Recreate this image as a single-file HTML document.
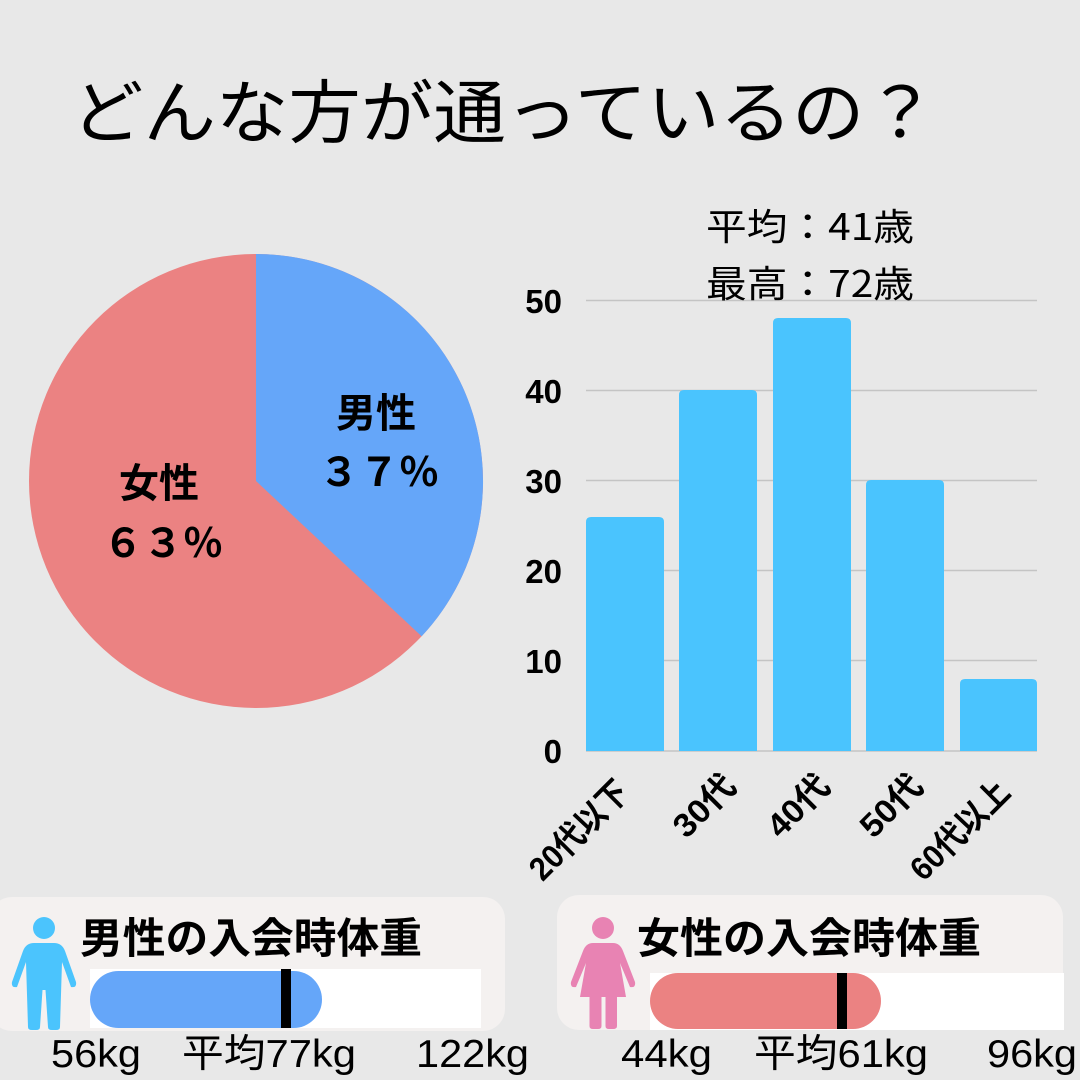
<!DOCTYPE html>
<html><head><meta charset="utf-8">
<style>
html,body{margin:0;padding:0;background:#e8e8e8;}
svg{display:block;}
text{font-family:"Liberation Sans","Noto Sans CJK JP",sans-serif;}
.jp{font-family:"Noto Sans CJK JP","Liberation Sans",sans-serif;}
</style></head>
<body>
<svg width="1080" height="1080" viewBox="0 0 1080 1080" xmlns="http://www.w3.org/2000/svg">
<rect width="1080" height="1080" fill="#e8e8e8"/>

<!-- Title -->
<text class="jp" x="71" y="137" font-size="69" fill="#000" textLength="866" lengthAdjust="spacingAndGlyphs">どんな方が通っているの？</text>

<!-- Pie -->
<circle cx="256" cy="481" r="227" fill="#eb8282"/>
<path d="M256 481 L256 254 A227 227 0 0 1 421.6 636.3 Z" fill="#65a6f9"/>
<text class="jp" x="376" y="427" font-size="40" font-weight="bold" text-anchor="middle" fill="#000">男性</text>
<text class="jp" x="379" y="486" font-size="40" font-weight="bold" text-anchor="middle" fill="#000">３７％</text>
<text class="jp" x="159" y="497" font-size="40" font-weight="bold" text-anchor="middle" fill="#000">女性</text>
<text class="jp" x="163" y="557" font-size="40" font-weight="bold" text-anchor="middle" fill="#000">６３％</text>

<!-- Bar chart gridlines -->
<g stroke="#c4c4c4" stroke-width="1.5">
<line x1="586" y1="300.5" x2="1037" y2="300.5"/>
<line x1="586" y1="390.5" x2="1037" y2="390.5"/>
<line x1="586" y1="480.5" x2="1037" y2="480.5"/>
<line x1="586" y1="570.5" x2="1037" y2="570.5"/>
<line x1="586" y1="660.5" x2="1037" y2="660.5"/>
<line x1="586" y1="751" x2="1037" y2="751"/>
</g>
<g class="jp" font-size="33" font-weight="bold" text-anchor="end" fill="#000">
<text x="562" y="313">50</text>
<text x="562" y="403">40</text>
<text x="562" y="493">30</text>
<text x="562" y="583">20</text>
<text x="562" y="673">10</text>
<text x="562" y="763">0</text>
</g>
<!-- Bars -->
<g fill="#4ac4fe">
<path d="M586 751 V522 Q586 517 591 517 H659 Q664 517 664 522 V751 Z"/>
<path d="M679 751 V395 Q679 390 684 390 H752 Q757 390 757 395 V751 Z"/>
<path d="M773 751 V323 Q773 318 778 318 H846 Q851 318 851 323 V751 Z"/>
<path d="M866 751 V485 Q866 480 871 480 H939 Q944 480 944 485 V751 Z"/>
<path d="M960 751 V684 Q960 679 965 679 H1032 Q1037 679 1037 684 V751 Z"/>
</g>
<!-- x labels -->
<g class="jp" font-size="33" font-weight="bold" text-anchor="end" fill="#000">
<text transform="translate(631,794) rotate(-45)" textLength="125" lengthAdjust="spacingAndGlyphs">20代以下</text>
<text transform="translate(738,788) rotate(-45)" textLength="73" lengthAdjust="spacingAndGlyphs">30代</text>
<text transform="translate(832,788) rotate(-45)" textLength="73" lengthAdjust="spacingAndGlyphs">40代</text>
<text transform="translate(925,788) rotate(-45)" textLength="73" lengthAdjust="spacingAndGlyphs">50代</text>
<text transform="translate(1012,794) rotate(-45)" textLength="125" lengthAdjust="spacingAndGlyphs">60代以上</text>
</g>
<!-- stats -->
<text class="jp" x="706" y="240" font-size="37" fill="#000" textLength="208" lengthAdjust="spacingAndGlyphs">平均：41歳</text>
<text class="jp" x="706" y="297" font-size="37" fill="#000" textLength="208" lengthAdjust="spacingAndGlyphs">最高：72歳</text>

<!-- Left panel -->
<rect x="-10" y="897" width="515" height="134" rx="22" fill="#f4f1f0"/>
<circle cx="44" cy="928" r="11" fill="#4bc4fd"/>
<path d="M34 943 L54 943 Q62 943 65 951 L76 982 Q77 988 71 987 L62 962 L60 1027 Q60 1030 56 1030 L52 1030 Q48 1030 48 1027 L45.5 990 L42.5 990 L40 1027 Q40 1030 36 1030 L32 1030 Q28 1030 28 1027 L26 962 L17 987 Q11 988 12 982 L23 951 Q26 943 34 943 Z" fill="#4bc4fd"/>
<text class="jp" x="80" y="953" font-size="42" font-weight="bold" fill="#000" textLength="342" lengthAdjust="spacingAndGlyphs">男性の入会時体重</text>
<rect x="90" y="969" width="391" height="59" fill="#ffffff"/>
<rect x="90" y="971" width="232" height="57" rx="28.5" fill="#65a6f9"/>
<rect x="281" y="969" width="10" height="59" fill="#000"/>
<g class="jp" font-size="39" fill="#000">
<text x="51" y="1067" textLength="90" lengthAdjust="spacingAndGlyphs">56kg</text>
<text x="182" y="1067" textLength="174" lengthAdjust="spacingAndGlyphs">平均77kg</text>
<text x="416" y="1067" textLength="113" lengthAdjust="spacingAndGlyphs">122kg</text>
</g>

<!-- Right panel -->
<rect x="557" y="895" width="506" height="135" rx="22" fill="#f4f1f0"/>
<circle cx="603" cy="928" r="11" fill="#e883b3"/>
<path d="M593 943 L613 943 Q620 943 623 951 L635 982 Q636 988 630 987 L620 963 L626 997 L617 997 L617 1026 Q617 1029 613 1029 L609 1029 Q605.5 1029 605.5 1026 L605.5 997 L601.5 997 L601.5 1026 Q601.5 1029 598 1029 L593 1029 Q589.5 1029 589.5 1026 L589.5 997 L580 997 L586 963 L576 987 Q570 988 571 982 L583 951 Q586 943 593 943 Z" fill="#e883b3"/>
<text class="jp" x="637" y="953" font-size="42" font-weight="bold" fill="#000" textLength="344" lengthAdjust="spacingAndGlyphs">女性の入会時体重</text>
<rect x="650" y="973" width="414" height="57" fill="#ffffff"/>
<rect x="650" y="973" width="231" height="56" rx="28" fill="#eb8282"/>
<rect x="837" y="973" width="10" height="56" fill="#000"/>
<g class="jp" font-size="39" fill="#000">
<text x="621" y="1067" textLength="91" lengthAdjust="spacingAndGlyphs">44kg</text>
<text x="754" y="1067" textLength="174" lengthAdjust="spacingAndGlyphs">平均61kg</text>
<text x="987" y="1067" textLength="90" lengthAdjust="spacingAndGlyphs">96kg</text>
</g>
</svg>
</body></html>
